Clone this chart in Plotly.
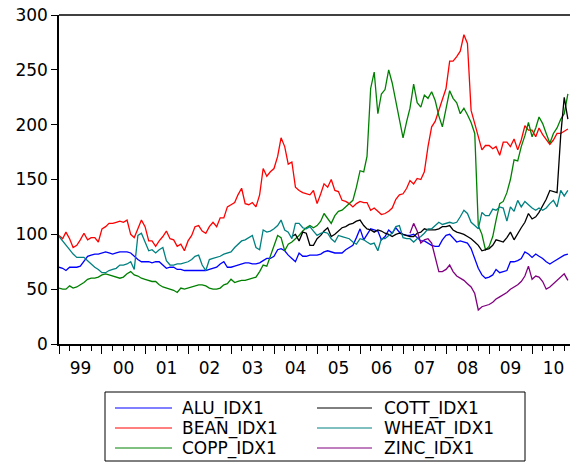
"""Commodity price indices (IDX1), monthly 1999-2010, EViews-style line chart"""

import pandas as pd
import plotly.graph_objects as go

# monthly observations start in Jan 1999
months = pd.date_range('1999-01-01', periods=143, freq='MS')

alu = [70, 69, 67, 70, 70, 70, 71, 75, 80, 81, 82, 82,
       83, 84, 83, 82, 83, 84, 84, 84, 83, 80, 77, 75,
       75, 75, 74, 75, 75, 72, 69, 70, 70, 68, 68, 67,
       67, 67, 67, 67, 67, 67, 68, 69, 70, 73, 75, 70,
       70, 71, 72, 73, 74, 74, 73, 73, 74, 76, 78, 78,
       80, 86, 87, 85, 81, 78, 75, 83, 80, 80, 81, 81,
       81, 82, 84, 85, 84, 83, 83, 83, 86, 88, 90, 97,
       105, 95, 100, 105, 104, 103, 95, 98, 104, 101, 106, 102,
       100, 99, 99, 100, 97, 94, 94, 92, 90, 89, 89, 95,
       99, 100, 97, 93, 94, 93, 92, 87, 77, 69, 63, 60,
       61, 63, 68, 65, 66, 67, 75, 75, 76, 78, 84, 82,
       79, 82, 80, 78, 75, 73, 75, 77, 79, 81, 82]

bean = [99, 96, 102, 96, 88, 90, 95, 101, 95, 97, 97, 93,
        105, 107, 110, 110, 111, 112, 111, 113, 100, 97, 105, 113,
        107, 94, 94, 89, 94, 98, 103, 96, 95, 89, 91, 85,
        94, 99, 107, 108, 103, 101, 107, 111, 107, 115, 115, 125,
        127, 129, 136, 142, 128, 127, 129, 125, 136, 160, 153, 157,
        160, 171, 188, 180, 164, 166, 143, 140, 138, 137, 136, 140,
        128, 137, 146, 143, 150, 140, 139, 131, 130, 128, 125, 128,
        130, 129, 129, 122, 124, 121, 118, 119, 121, 124, 132, 136,
        137, 142, 149, 146, 151, 150, 157, 180, 198, 203, 214, 223,
        233, 258, 258, 262, 267, 282, 274, 213, 201, 190, 177, 181,
        181, 178, 180, 172, 184, 184, 180, 187, 177, 186, 199, 195,
        195, 189, 197, 191, 186, 182, 186, 192, 192, 194, 196]

copp = [51, 50, 50, 53, 51, 52, 54, 56, 59, 60, 60, 61,
        63, 64, 63, 62, 61, 60, 61, 64, 66, 63, 62, 60,
        59, 58, 57, 57, 54, 52, 51, 50, 49, 47, 51, 50,
        51, 52, 53, 54, 54, 53, 51, 50, 50, 51, 54, 55,
        59, 56, 57, 58, 58, 59, 60, 61, 66, 72, 71, 80,
        90, 99, 97, 85, 91, 93, 96, 99, 103, 106, 108, 106,
        108, 112, 119, 114, 110, 117, 121, 122, 125, 128, 131, 143,
        158, 157, 171, 233, 248, 210, 228, 232, 250, 238, 220, 205,
        188, 203, 215, 237, 220, 216, 227, 224, 230, 222, 208, 198,
        213, 231, 224, 220, 210, 215, 209, 202, 192, 108, 100, 86,
        89, 98, 113, 128, 130, 138, 150, 168, 167, 180, 190, 202,
        189, 197, 207, 201, 192, 183, 192, 197, 205, 210, 228]

# cotton index starts in Jun 2004
cott_start = '2004-06-01'
cott = [98, 100, 94, 102, 101, 90, 90,
        96, 99, 103, 106, 98, 100, 103, 106, 107, 109, 110, 112,
        113, 108, 105, 104, 102, 104, 103, 101, 100, 98, 100, 101,
        100, 99, 98, 98, 101, 102, 105, 104, 104, 104, 105, 107,
        107, 108, 104, 102, 101, 100, 98, 96, 93, 90, 85, 86,
        87, 90, 95, 94, 93, 97, 102, 95, 101, 106, 111, 119,
        114, 116, 120, 126, 132, 140, 139, 138, 190, 225, 205]

wheat = [98, 94, 91, 86, 82, 79, 79, 79, 76, 73, 70, 68,
         65, 65, 67, 68, 69, 72, 72, 73, 75, 68, 99, 101,
         93, 85, 86, 83, 86, 88, 76, 72, 72, 73, 73, 74,
         75, 77, 80, 81, 72, 67, 77, 78, 79, 80, 82, 83,
         84, 88, 91, 94, 95, 97, 99, 88, 86, 104, 102, 103,
         105, 108, 113, 104, 102, 96, 110, 110, 106, 105, 107, 103,
         99, 101, 102, 101, 96, 93, 99, 98, 97, 96, 93, 91,
         96, 95, 93, 91, 92, 85, 96, 96, 99, 101, 107, 108,
         97, 96, 96, 93, 96, 98, 101, 105, 105, 108, 111, 109,
         110, 111, 110, 111, 116, 122, 119, 111, 108, 105, 120, 117,
         117, 123, 122, 125, 124, 112, 125, 121, 131, 125, 130, 127,
         124, 122, 124, 122, 124, 128, 131, 125, 140, 135, 140]

# zinc index starts in Mar 2007
zinc_start = '2007-03-01'
zinc = [101, 110, 103, 92, 95, 96, 92, 80, 66, 66,
        68, 72, 66, 62, 60, 58, 55, 52, 46, 31, 34, 35,
        36, 38, 41, 43, 45, 47, 50, 52, 54, 57, 62, 71,
        59, 62, 61, 57, 50, 52, 55, 58, 61, 64, 58]

names = ['ALU_IDX1', 'BEAN_IDX1', 'COPP_IDX1', 'COTT_IDX1', 'WHEAT_IDX1', 'ZINC_IDX1']
colors = ['#0000FF', '#FF0000', '#008000', '#000000', '#008080', '#800080']

cott_dates = pd.date_range(cott_start, periods=len(cott), freq='MS')
zinc_dates = pd.date_range(zinc_start, periods=len(zinc), freq='MS')
series = [(months, alu), (months, bean), (months, copp),
          (cott_dates, cott), (months, wheat), (zinc_dates, zinc)]

FONT = 'DejaVu Sans'

fig = go.Figure()
for (x, y), name, color in zip(series, names, colors):
    fig.add_trace(go.Scatter(x=x, y=y, mode='lines', name=name,
                             line=dict(color=color, width=1.3),
                             showlegend=False))

W, H = 570, 462
L, T, R, B = 59, 15, 0, 118
pw, ph = W - L - R, H - T - B

fig.update_layout(
    width=W, height=H,
    margin=dict(l=L, r=R, t=T, b=B),
    plot_bgcolor='white', paper_bgcolor='white',
    font=dict(family=FONT, size=17, color='black'),
)
fig.update_xaxes(
    type='date', range=['1999-01-01', '2010-11-19'],
    dtick='M12', tick0='1999-01-01', tickformat='%y', ticklabelmode='period',
    ticks='outside', ticklen=8, tickwidth=1, tickcolor='black',
    minor=dict(dtick='M3', ticks='outside', ticklen=5, tickcolor='black'),
    showline=True, linecolor='black', linewidth=1.5,
    showgrid=False, zeroline=False,
)
fig.update_yaxes(
    range=[0, 300], dtick=50,
    ticks='outside', ticklen=6, tickcolor='black',
    showline=True, linecolor='black', linewidth=1.5,
    showgrid=False, zeroline=False,
)

# top frame line (the right side is cut off in the picture)
fig.add_shape(type='line', xref='paper', yref='paper', x0=0, x1=1, y0=1, y1=1,
              line=dict(color='black', width=1.5))

# legend box drawn by hand, two columns of three entries
def px_x(p):
    return (p - L) / pw

def px_y(p):
    return (H - B - p) / ph

fig.add_shape(type='rect', xref='paper', yref='paper',
              x0=px_x(105), x1=px_x(525), y0=px_y(392), y1=px_y(461),
              line=dict(color='black', width=1), fillcolor='white', layer='above')
for i, (name, color) in enumerate(zip(names, colors)):
    col, row = divmod(i, 3)
    lx0 = 115 if col == 0 else 317
    lx1 = 172 if col == 0 else 372
    tx = 180 if col == 0 else 382
    ry = 408 + row * 20
    fig.add_shape(type='line', xref='paper', yref='paper',
                  x0=px_x(lx0), x1=px_x(lx1), y0=px_y(ry), y1=px_y(ry),
                  line=dict(color=color, width=1))
    fig.add_annotation(xref='paper', yref='paper', x=px_x(tx), y=px_y(ry),
                       text=name, showarrow=False, xanchor='left', yanchor='middle',
                       font=dict(family=FONT, size=17, color='black'))

# the page body has a default 8px margin; drop it so the chart fills the window
fig.write_html("out.html", config={'displayModeBar': False},
               post_script="document.body.style.margin='0';")
